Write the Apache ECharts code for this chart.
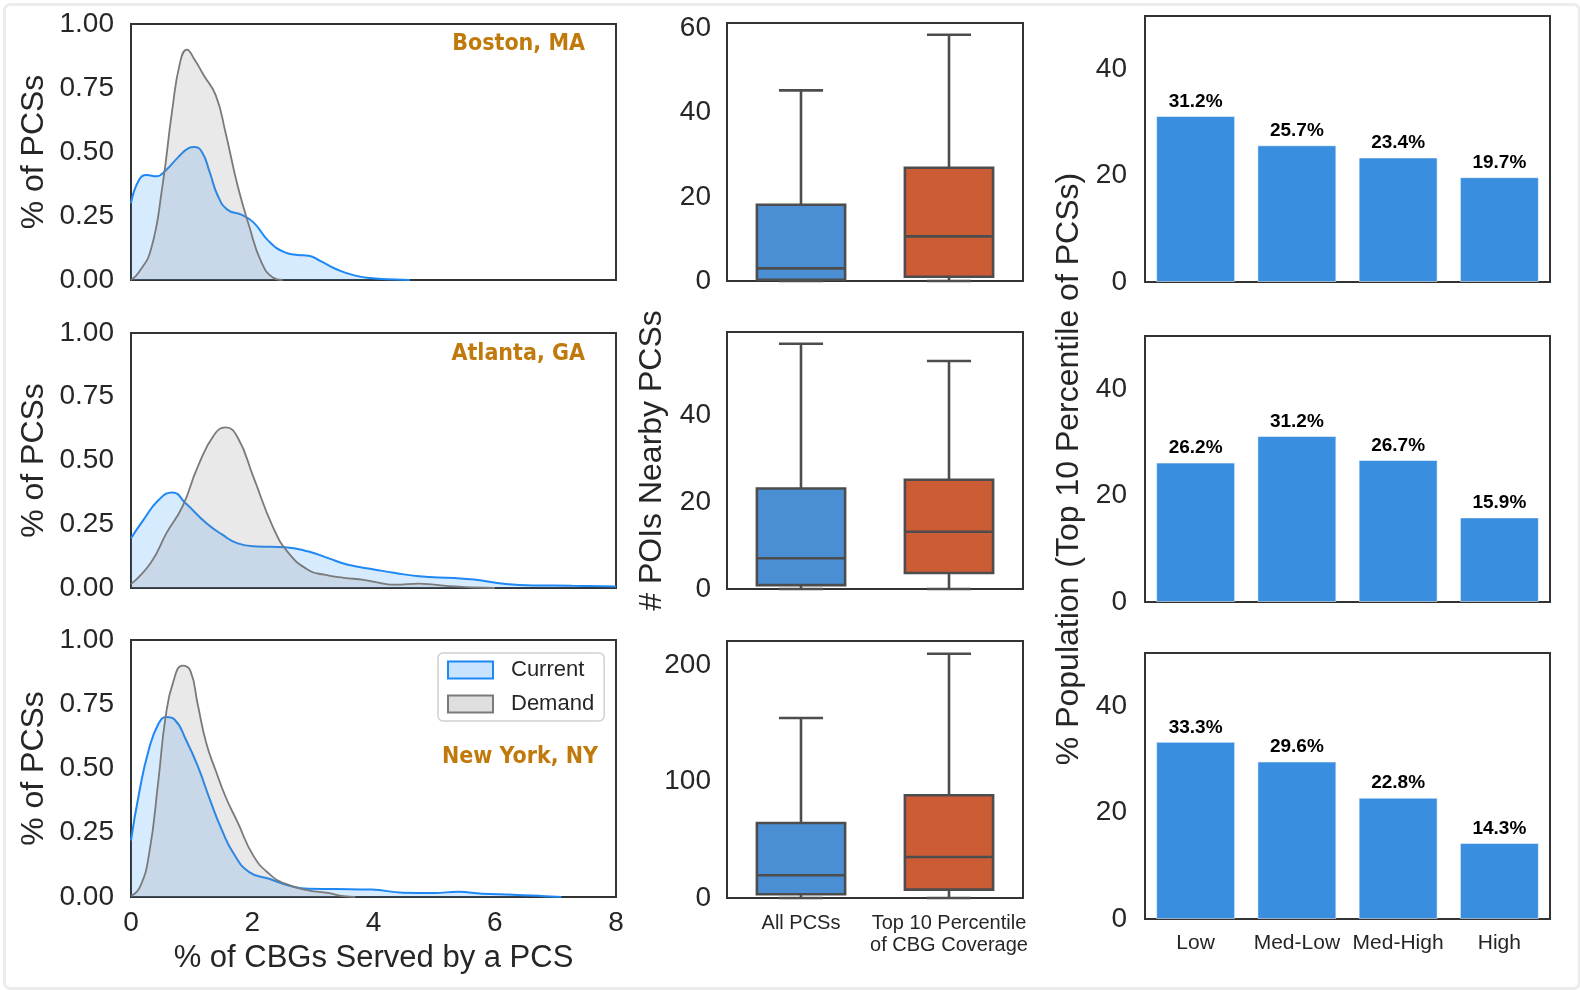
<!DOCTYPE html>
<html><head><meta charset="utf-8">
<script src="https://cdn.jsdelivr.net/npm/echarts/dist/echarts.min.js"></script>
<style>html,body{margin:0;padding:0;background:#fff}#c{width:1580px;height:990px}</style>
</head><body><div id="c"></div>
<script>
// ---------- DATA ----------
const cities = ['Boston, MA', 'Atlanta, GA', 'New York, NY'];
const seriesNames = ['Current', 'Demand'];
const xTicksKde = [0, 2, 4, 6, 8];

const bostonCurrent = [[0,0.30],[0.13,0.39],[0.26,0.41],[0.42,0.405],[0.58,0.43],[0.78,0.48],[0.95,0.515],[1.04,0.52],[1.17,0.50],[1.3,0.42],[1.43,0.33],[1.59,0.275],[1.82,0.255],[2.02,0.225],[2.28,0.15],[2.54,0.108],[2.75,0.098],[2.93,0.095],[3.12,0.075],[3.38,0.043],[3.7,0.017],[4.03,0.006],[4.36,0.002],[4.6,0]];
const bostonDemand = [[0,0],[0.13,0.03],[0.33,0.12],[0.52,0.37],[0.68,0.665],[0.81,0.85],[0.92,0.90],[1.05,0.86],[1.2,0.80],[1.4,0.72],[1.56,0.575],[1.76,0.367],[1.95,0.21],[2.15,0.07],[2.34,0.01],[2.5,0]];
const atlantaCurrent = [[0,0.195],[0.2,0.265],[0.455,0.345],[0.68,0.375],[0.91,0.33],[1.24,0.255],[1.5,0.21],[1.76,0.175],[2.08,0.163],[2.54,0.16],[2.93,0.143],[3.25,0.117],[3.58,0.091],[4.03,0.072],[4.36,0.059],[4.75,0.046],[5.33,0.039],[5.66,0.033],[6.18,0.016],[6.63,0.01],[7.28,0.009],[8,0.006]];
const atlantaDemand = [[0,0.015],[0.33,0.1],[0.585,0.215],[0.85,0.32],[1.1,0.475],[1.37,0.6],[1.56,0.63],[1.76,0.59],[2.02,0.435],[2.34,0.24],[2.6,0.137],[2.93,0.07],[3.19,0.052],[3.51,0.04],[3.84,0.032],[4.1,0.02],[4.36,0.013],[4.75,0.017],[5.0,0.013],[5.33,0.006],[5.66,0.002],[6.0,0]];
const nyCurrent = [[0,0.22],[0.13,0.40],[0.29,0.57],[0.455,0.675],[0.585,0.70],[0.72,0.69],[0.91,0.61],[1.1,0.51],[1.3,0.38],[1.5,0.26],[1.69,0.17],[1.95,0.097],[2.28,0.071],[2.6,0.045],[2.93,0.032],[3.38,0.031],[3.97,0.029],[4.49,0.017],[5.0,0.016],[5.4,0.02],[5.79,0.013],[6.3,0.009],[6.83,0.003],[7.1,0]];
const nyDemand = [[0,0.003],[0.15,0.04],[0.3,0.17],[0.45,0.45],[0.57,0.70],[0.7,0.84],[0.85,0.90],[0.98,0.88],[1.1,0.75],[1.24,0.60],[1.4,0.49],[1.56,0.39],[1.76,0.29],[2.02,0.16],[2.28,0.09],[2.54,0.052],[2.93,0.026],[3.25,0.016],[3.51,0.003],[3.7,0]];

const boxCategories = ['All PCSs', 'Top 10 Percentile\nof CBG Coverage'];
// [min, Q1, median, Q3, max]
const bostonBox = [[0, 0.3, 3.0, 18.1, 45.3], [0, 1.0, 10.6, 26.9, 58.5]];
const atlantaBox = [[0, 0.9, 7.1, 23.2, 56.6], [0, 3.7, 13.2, 25.2, 52.6]];
const nyBox = [[0, 3.2, 19.5, 64.5, 154.8], [0, 7.2, 35.3, 88.3, 210]];
const boxYMax = [61.3, 59.3, 221];
const boxYInterval = [20, 20, 100];

const incomeCategories = ['Low', 'Med-Low', 'Med-High', 'High'];
const bostonPop = [31.2, 25.7, 23.4, 19.7];
const atlantaPop = [26.2, 31.2, 26.7, 15.9];
const nyPop = [33.3, 29.6, 22.8, 14.3];

// ---------- LAYOUT / STYLE ----------
const FONT = 'Liberation Sans, Arial, sans-serif';
const TXT = '#262626';
const leftGrids = [[131, 24, 485, 256], [131, 333, 485, 255], [131, 640, 485, 257]];
const midGrids = [[727, 23, 296, 258], [727, 332, 296, 257], [727, 641, 296, 257]];
const rightGrids = [[1145, 16, 405, 266], [1145, 336, 405, 266], [1145, 653, 405, 266]];
const kdeData = [[bostonCurrent, bostonDemand], [atlantaCurrent, atlantaDemand], [nyCurrent, nyDemand]];
const boxData = [bostonBox, atlantaBox, nyBox];
const popData = [bostonPop, atlantaPop, nyPop];
const boxColors = ['#4a8fd4', '#cc5c34'];

const grid = [], xAxis = [], yAxis = [], series = [];
function mkGrid(g) {
  return {left: g[0], top: g[1], width: g[2], height: g[3], show: true,
    borderColor: '#333', borderWidth: 2, backgroundColor: 'transparent', containLabel: false};
}
const labelBase = {color: TXT, fontFamily: FONT, fontSize: 28};
const nameStyle = {color: TXT, fontFamily: FONT, fontSize: 32};

// Left KDE
for (let i = 0; i < 3; i++) {
  grid.push(mkGrid(leftGrids[i]));
  xAxis.push({type: 'value', gridIndex: i, min: 0, max: 8, interval: 2,
    axisLine: {show: false}, axisTick: {show: false}, splitLine: {show: false},
    axisLabel: Object.assign({show: i === 2, margin: 12}, labelBase),
    name: i === 2 ? '% of CBGs Served by a PCS' : '', nameLocation: 'middle', nameGap: 46,
    nameTextStyle: {color: TXT, fontFamily: FONT, fontSize: 31}});
  yAxis.push({type: 'value', gridIndex: i, min: 0, max: 1, interval: 0.25,
    axisLine: {show: false}, axisTick: {show: false}, splitLine: {show: false},
    axisLabel: Object.assign({margin: 17, formatter: v => v.toFixed(2)}, labelBase),
    name: '% of PCSs', nameLocation: 'middle', nameGap: 81, nameTextStyle: nameStyle});
  series.push({type: 'line', name: 'Current', xAxisIndex: i, yAxisIndex: i, data: kdeData[i][0],
    smooth: 0.5, symbol: 'none', z: 2,
    lineStyle: {color: '#1e88f5', width: 2}, itemStyle: {color: '#1e88f5'},
    areaStyle: {color: 'rgba(30,144,255,0.25)', origin: 'start'}});
  series.push({type: 'line', name: 'Demand', xAxisIndex: i, yAxisIndex: i, data: kdeData[i][1],
    smooth: 0.5, symbol: 'none', z: 3,
    lineStyle: {color: '#7a7a7a', width: 1.8}, itemStyle: {color: '#7a7a7a'},
    areaStyle: {color: 'rgba(128,128,128,0.25)', origin: 'start'}});
}

// Middle boxplots (custom)
function renderBox(params, api) {
  const c = api.value(0);
  const mn = api.coord([c, api.value(1)]);
  const q1 = api.coord([c, api.value(2)]);
  const md = api.coord([c, api.value(3)]);
  const q3 = api.coord([c, api.value(4)]);
  const mx = api.coord([c, api.value(5)]);
  const band = api.size([1, 0])[0];
  const hw = band * 0.298, cw = hw / 2, cx = mn[0];
  const st = {stroke: '#4d4d4d', lineWidth: 2.6};
  return {type: 'group', children: [
    {type: 'line', shape: {x1: cx, y1: q3[1], x2: cx, y2: mx[1]}, style: st},
    {type: 'line', shape: {x1: cx, y1: q1[1], x2: cx, y2: mn[1]}, style: st},
    {type: 'line', shape: {x1: cx - cw, y1: mx[1], x2: cx + cw, y2: mx[1]}, style: st},
    {type: 'line', shape: {x1: cx - cw, y1: mn[1], x2: cx + cw, y2: mn[1]}, style: st},
    {type: 'rect', shape: {x: cx - hw, y: q3[1], width: 2 * hw, height: q1[1] - q3[1]},
      style: {fill: boxColors[c], stroke: '#4d4d4d', lineWidth: 2.6}},
    {type: 'line', shape: {x1: cx - hw, y1: md[1], x2: cx + hw, y2: md[1]}, style: st}
  ]};
}
for (let i = 0; i < 3; i++) {
  const gi = 3 + i;
  grid.push(mkGrid(midGrids[i]));
  xAxis.push({type: 'category', gridIndex: gi, data: boxCategories,
    axisLine: {show: false}, axisTick: {show: false}, splitLine: {show: false},
    axisLabel: {show: i === 2, interval: 0, color: TXT, fontFamily: FONT, fontSize: 20, lineHeight: 22, margin: 14}});
  const iv = boxYInterval[i];
  yAxis.push({type: 'value', gridIndex: gi, min: 0, max: boxYMax[i], interval: iv,
    axisLine: {show: false}, axisTick: {show: false}, splitLine: {show: false},
    axisLabel: Object.assign({margin: 16, formatter: v => (Math.abs(v / iv - Math.round(v / iv)) < 1e-6 ? String(v) : '')}, labelBase),
    name: i === 1 ? '# POIs Nearby PCSs' : '', nameLocation: 'middle', nameGap: 59, nameTextStyle: nameStyle});
  series.push({type: 'custom', xAxisIndex: gi, yAxisIndex: gi, renderItem: renderBox,
    encode: {x: 0, y: [1, 2, 3, 4, 5]},
    data: boxData[i].map((b, k) => [k].concat(b))});
}

// Right bars
for (let i = 0; i < 3; i++) {
  const gi = 6 + i;
  grid.push(mkGrid(rightGrids[i]));
  xAxis.push({type: 'category', gridIndex: gi, data: incomeCategories,
    axisLine: {show: false}, axisTick: {show: false}, splitLine: {show: false},
    axisLabel: {show: i === 2, interval: 0, color: TXT, fontFamily: FONT, fontSize: 21, margin: 14}});
  yAxis.push({type: 'value', gridIndex: gi, min: 0, max: 50, interval: 20,
    axisLine: {show: false}, axisTick: {show: false}, splitLine: {show: false},
    axisLabel: Object.assign({margin: 18, formatter: v => (v % 20 === 0 ? String(v) : '')}, labelBase),
    name: i === 1 ? '% Population (Top 10 Percentile of PCSs)' : '', nameLocation: 'middle', nameGap: 60, nameTextStyle: nameStyle});
  series.push({type: 'bar', xAxisIndex: gi, yAxisIndex: gi, data: popData[i], barWidth: '78%',
    itemStyle: {color: '#3a8ee0', borderColor: 'rgba(255,255,255,0.5)', borderWidth: 1},
    label: {show: true, position: 'top', distance: 5, formatter: p => p.value.toFixed(1) + '%',
      color: '#000', fontWeight: 'bold', fontFamily: FONT, fontSize: 19}});
}

const cityPos = [[995, 33], [995, 343], [982, 746]];
const title = cities.map((c, i) => ({text: c, right: cityPos[i][0], top: cityPos[i][1], padding: 0,
  textStyle: {color: '#c07a0c', fontWeight: 'bold', fontSize: 23, fontFamily: 'DejaVu Sans Condensed, DejaVu Sans'}}));

const option = {
  animation: false,
  backgroundColor: '#fff',
  title: title,
  grid: grid, xAxis: xAxis, yAxis: yAxis, series: series,
  legend: {
    data: [
      {name: 'Current', itemStyle: {color: 'rgba(30,144,255,0.25)', borderColor: '#1e88f5', borderWidth: 2}},
      {name: 'Demand', itemStyle: {color: 'rgba(128,128,128,0.25)', borderColor: '#7a7a7a', borderWidth: 2}}
    ],
    icon: 'rect', orient: 'vertical', left: 438, top: 653,
    itemWidth: 45, itemHeight: 17, itemGap: 12,
    padding: [6, 10, 6, 9],
    backgroundColor: '#fff', borderColor: '#d0d0d0', borderWidth: 1.5, borderRadius: 5,
    textStyle: {color: TXT, fontFamily: FONT, fontSize: 22, padding: [0, 0, 0, 13]}
  },
  graphic: [{type: 'rect', left: 2, top: 2, shape: {width: 1575, height: 984, r: 6}, silent: true,
    style: {fill: 'none', stroke: '#ececec', lineWidth: 3}}]
};
echarts.init(document.getElementById('c')).setOption(option);
</script></body></html>
